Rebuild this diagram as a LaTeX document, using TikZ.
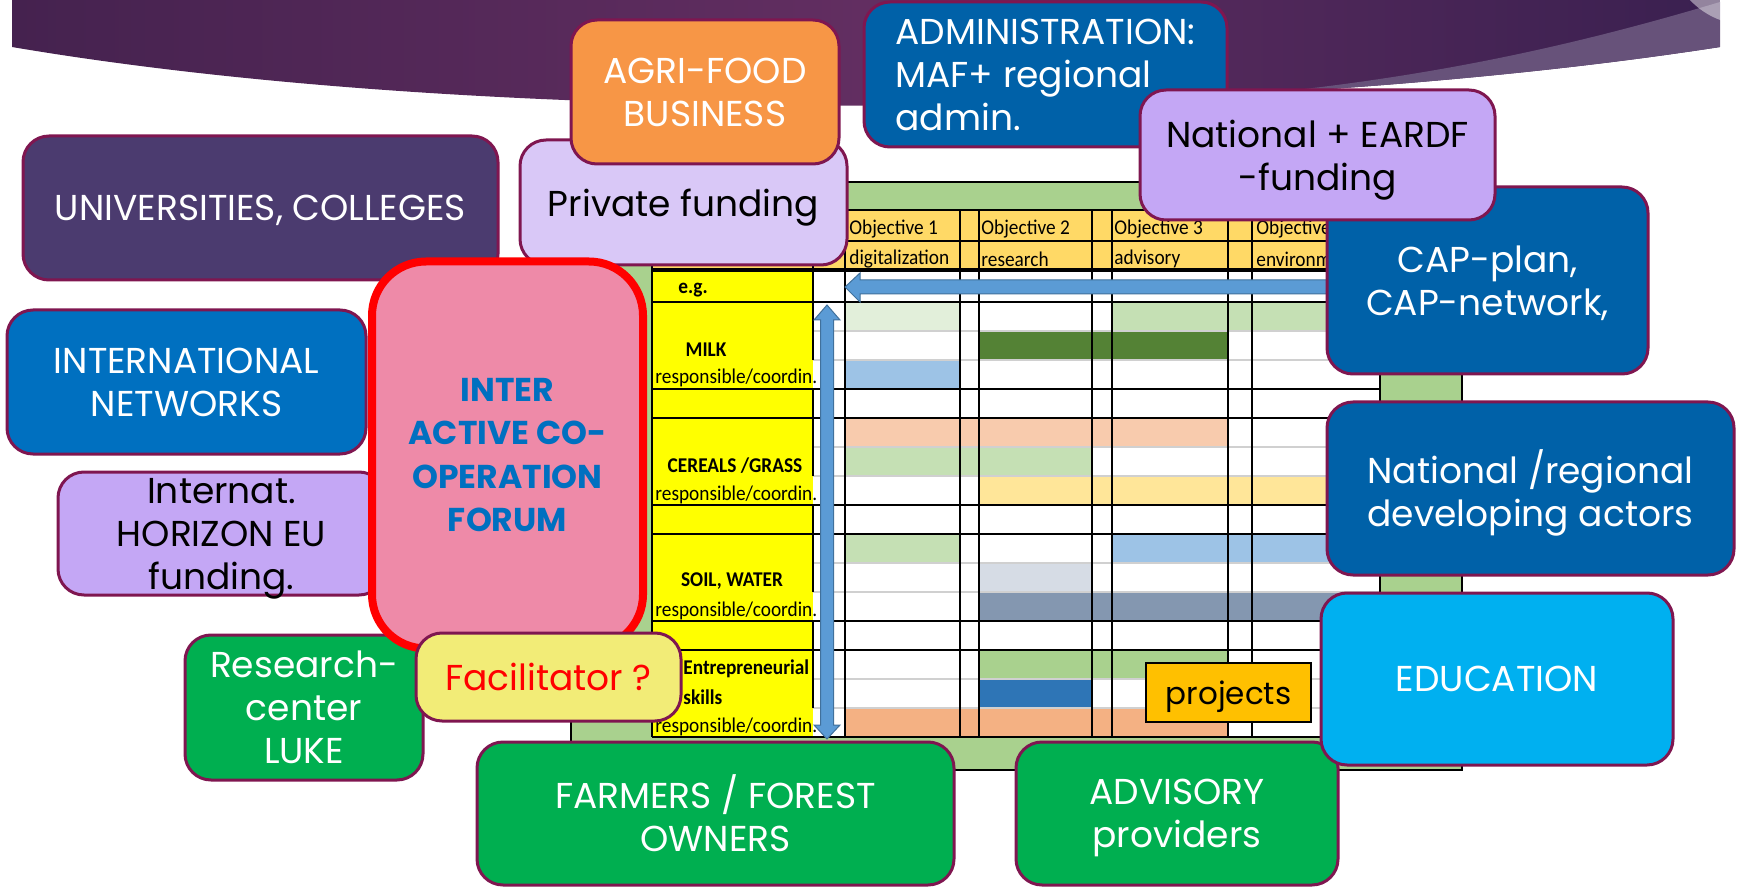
\documentclass[tikz,border=0pt]{standalone}
\usepackage{fontspec}
\newfontfamily\boxfont{Poppins}
\newfontfamily\cellfont[FakeStretch=0.92]{Carlito}
\definecolor{boxline}{HTML}{7F1650}
\definecolor{univpurple}{HTML}{4B3B6F}
\definecolor{agriorange}{HTML}{F79646}
\definecolor{privlilac}{HTML}{D9C8F7}
\definecolor{fundlilac}{HTML}{C4A7F5}
\definecolor{adminblue}{HTML}{0061A8}
\definecolor{netblue}{HTML}{0070C0}
\definecolor{edublue}{HTML}{00B0F0}
\definecolor{actorgreen}{HTML}{00AF50}
\definecolor{facilyellow}{HTML}{F2EC77}
\definecolor{forumpink}{HTML}{EE8AA8}
\definecolor{projorange}{HTML}{FFC000}
\definecolor{framegreen}{HTML}{A9D18E}
\definecolor{headyellow}{HTML}{FFD966}
\definecolor{labelyellow}{HTML}{FFFF00}
\definecolor{gridgrey}{HTML}{D0D0D0}
\definecolor{arrowblue}{HTML}{5B9BD5}
\definecolor{arrowline}{HTML}{41719C}
\definecolor{bannerA}{HTML}{45224F}
\definecolor{bannerB}{HTML}{622E61}
\definecolor{bannerC}{HTML}{3A2050}
\definecolor{swoosh}{HTML}{67527A}
% cell colours of the plan table
\definecolor{paleGreen}{HTML}{E2EFDA}
\definecolor{lightGreen}{HTML}{C5E0B4}
\definecolor{darkGreen}{HTML}{548235}
\definecolor{lightBlue}{HTML}{9DC3E6}
\definecolor{peachCell}{HTML}{F8CBAD}
\definecolor{paleYellow}{HTML}{FFE699}
\definecolor{greyBlue}{HTML}{D6DCE5}
\definecolor{slateCell}{HTML}{8497B0}
\definecolor{midGreen}{HTML}{A9D18E}
\definecolor{deepBlue}{HTML}{2E75B6}
\definecolor{salmonCell}{HTML}{F4B183}
\tikzset{
  actor/.style={draw=boxline, line width=1.5pt, rounded corners=13pt, align=center,
    inner sep=0pt, text depth=0pt, font=\boxfont\fontsize{18}{21.5}\selectfont},
  cell/.style={inner sep=0pt, yshift=-1.7pt, font=\cellfont\fontsize{10.5}{12}\selectfont},
  celllabel/.style={inner sep=0pt, yshift=-1.7pt, font=\cellfont\bfseries\fontsize{10.5}{12}\selectfont},
}
\begin{document}
\begin{tikzpicture}[x=0.5pt,y=-0.5pt]
    \useasboundingbox (0,0) rectangle (1739,887);
    % banner
    \begin{scope}
        \clip (0,0) rectangle (1739,887);
        \shade[left color=bannerA, right color=bannerC, middle color=bannerB]
            (12,0) -- (12,47) .. controls (500,130) and (1250,120) .. (1720,47) -- (1720,0) -- cycle;
        \begin{scope}
            \clip (12,0) -- (12,47) .. controls (500,130) and (1250,120) .. (1720,47) -- (1720,0) -- cycle;
            \fill[swoosh] (1720,2) .. controls (1560,50) and (1420,78) .. (1250,95) -- (1250,140) -- (1740,140) -- (1740,2) -- cycle;
        \end{scope}
        \fill[white, opacity=0.45] (1748,-55) circle[radius=80];
    \end{scope}
    % plan table
    \filldraw[fill=framegreen, draw=black, line width=1pt] (571,182) rectangle (1462,770);
    \fill[white] (652,210) rectangle (1380,737);
    \fill[headyellow] (652,210) rectangle (1380,270);
    \fill[labelyellow] (652,270) rectangle (813,737);
    \foreach \xa/\xb/\ya/\yb/\c in {845/960/302/331/paleGreen, 1112/1380/302/331/lightGreen,
        979/1228/331/360/darkGreen, 845/960/360/389/lightBlue, 845/1228/418/447/peachCell,
        845/1092/447/476/lightGreen, 979/1380/476/505/paleYellow, 845/960/534/563/lightGreen,
        1112/1380/534/563/lightBlue, 979/1092/563/592/greyBlue, 979/1380/592/621/slateCell,
        979/1228/650/679/midGreen, 979/1092/679/708/deepBlue, 845/1228/708/737/salmonCell}
        \fill[\c] (\xa,\ya) rectangle (\xb,\yb);
    \foreach \y in {331,360,447,476,563,592,679,708}
        \draw[gridgrey, line width=0.8pt] (813,\y) -- (1380,\y);
    \foreach \y in {210,241,302,389,418,505,534,621,650,737}
        \draw[line width=1pt] (652,\y) -- (1380,\y);
    \draw[line width=1.6pt] (652,270) -- (1380,270);
    \foreach \x in {652,845,960,979,1092,1112,1228,1252,1380}
        \draw[line width=1pt] (\x,210) -- (\x,737);
    \foreach \ya/\yb in {210/360,389/476,505/592,621/708}
        \draw[line width=1pt] (813,\ya) -- (813,\yb);
    \foreach \xo/\ta/\tb [count=\i] in {849/Objective 1/digitalization, 981/Objective 2/research,
        1114/Objective 3/advisory, 1256/Objective/environm}
    {
        \node[cell, anchor=west] (obj\i) at (\xo,226) {\ta};
        \node[cell, anchor=west] (aim\i) at (\xo,256) {\tb};
    }
    \node[celllabel] (eg) at (693,287) {e.g.};
    \node[celllabel] (milk) at (706,346) {MILK};
    \node[cell, anchor=west] (respA) at (655,375) {responsible/coordin.};
    \node[celllabel] (cereal) at (735,462) {CEREALS /GRASS};
    \node[cell, anchor=west] (respB) at (655,491) {responsible/coordin.};
    \node[celllabel] (soil) at (732,578) {SOIL, WATER};
    \node[cell, anchor=west] (respC) at (655,607) {responsible/coordin.};
    \node[celllabel, anchor=west] (entre) at (683,665) {Entrepreneurial};
    \node[celllabel, anchor=west] (skill) at (683,694) {skills};
    \node[cell, anchor=west] (respD) at (655,723) {responsible/coordin.};
    % block arrows
    \filldraw[fill=arrowblue, draw=arrowline, line width=0.5pt] (845,287) -- (860,273) -- (860,280) -- (1340,280)
        -- (1340,294) -- (860,294) -- (860,302) -- cycle;
    \filldraw[fill=arrowblue, draw=arrowline, line width=0.5pt] (827,305) -- (840,320) -- (833.5,320) -- (833.5,725)
        -- (840,725) -- (827,739) -- (814,725) -- (820.5,725) -- (820.5,320) -- (814,320) -- cycle;
    % actors
    \node[actor, fill=univpurple, text=white, minimum width=237.5pt, minimum height=72pt] (univ) at (260.5,208) {UNIVERSITIES, COLLEGES};
    \node[actor, fill=netblue, text=white, minimum width=179.5pt, minimum height=72pt] (intnet) at (186.5,382) {INTERNATIONAL\\NETWORKS};
    \node[actor, fill=fundlilac, text=black, minimum width=163.5pt, minimum height=61.5pt] (horizon) at (221.5,533.5) {Internat.\\HORIZON EU\\funding.};
    \node[actor, fill=actorgreen, text=white, minimum width=119pt, minimum height=72.5pt] (luke) at (304,707.5) {Research-\\center\\LUKE};
    \node[actor, fill=privlilac, text=black, minimum width=163.5pt, minimum height=62.5pt] (priv) at (683.5,202.5) {Private funding};
    \node[actor, fill=agriorange, text=white, minimum width=134pt, minimum height=72pt] (agri) at (705,92) {AGRI-FOOD\\BUSINESS};
    \node[actor, fill=adminblue, text=white, minimum width=181.5pt, minimum height=72.5pt, align=left] (admin) at (1045.5,74.5) {ADMINISTRATION:\\MAF+ regional\\admin.};
    \node[actor, fill=adminblue, text=white, minimum width=160.5pt, minimum height=93.5pt] (cap) at (1487.5,280.5) {CAP-plan,\\CAP-network,};
    \node[actor, fill=fundlilac, text=black, minimum width=177.5pt, minimum height=65pt] (natfund) at (1317.5,155) {National + EARDF\\-funding};
    \node[actor, fill=adminblue, text=white, minimum width=203.5pt, minimum height=86.5pt] (natreg) at (1530.5,488.5) {National /regional\\developing actors};
    \node[actor, fill=actorgreen, text=white, minimum width=238.5pt, minimum height=71.5pt] (farm) at (715.5,813.5) {FARMERS / FOREST\\OWNERS};
    \node[actor, fill=actorgreen, text=white, minimum width=161pt, minimum height=71.5pt] (advis) at (1177,813.5) {ADVISORY\\providers};
    \node[actor, fill=edublue, text=white, minimum width=176pt, minimum height=86pt] (edu) at (1497,679) {EDUCATION};
    \node[actor, fill=forumpink, draw=red, line width=4pt, rounded corners=27pt, text=netblue,
        font=\boxfont\bfseries\fontsize{16.5}{21.6}\selectfont, minimum width=135.5pt, minimum height=193.5pt] (forum) at (507.5,455) {INTER\\ACTIVE CO-\\OPERATION\\FORUM};
    \node[actor, fill=facilyellow, text=red, minimum width=132.5pt, minimum height=44pt] (facil) at (548.5,677) {Facilitator ?};
    \node[draw=black, line width=0.6pt, fill=projorange, inner sep=0pt, text depth=0pt, minimum width=82.5pt, minimum height=29.5pt,
        font=\boxfont\fontsize{15.5}{17}\selectfont] (proj) at (1228.5,692.5) {projects};
\end{tikzpicture}
\end{document}
